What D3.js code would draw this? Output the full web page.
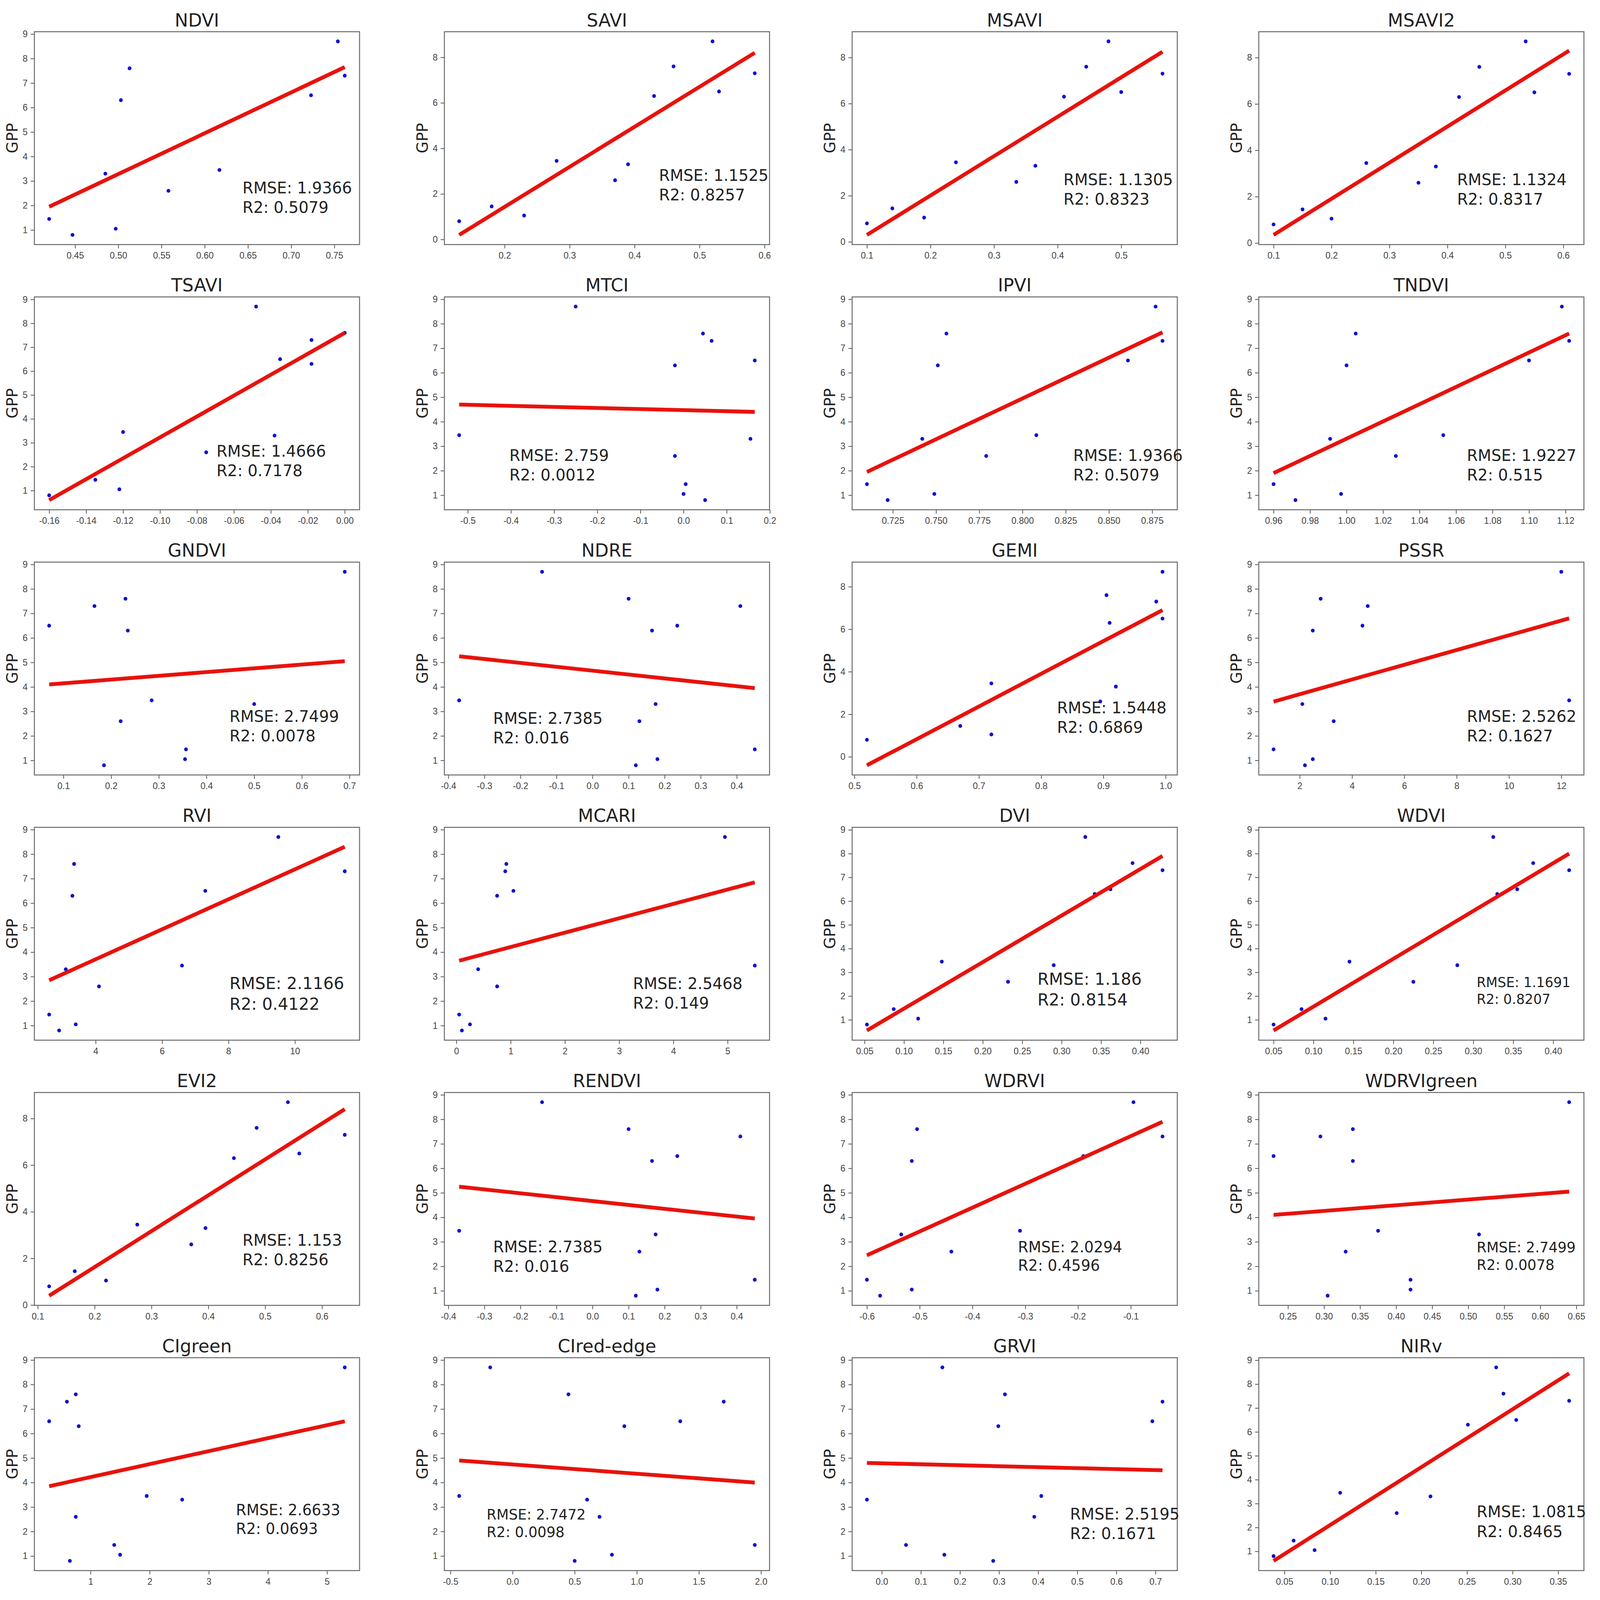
<!DOCTYPE html>
<html><head><meta charset="utf-8">
<script src="https://cdn.jsdelivr.net/npm/d3@7"></script>
<style>html,body{margin:0;padding:0;background:#fff;overflow:hidden}svg{display:block}</style>
</head><body>
<script>
// GPP observations (shared by every panel)
var gpp = [0.8, 1.05, 1.45, 2.6, 3.3, 3.45, 6.3, 6.5, 7.3, 7.6, 8.7];

var names = ["NDVI","SAVI","MSAVI","MSAVI2","TSAVI","MTCI","IPVI","TNDVI",
  "GNDVI","NDRE","GEMI","PSSR","RVI","MCARI","DVI","WDVI",
  "EVI2","RENDVI","WDRVI","WDRVIgreen","CIgreen","CIred-edge","GRVI","NIRv"];

// index values, same order as gpp
var xs = [
  [0.447,0.497,0.42,0.558,0.485,0.617,0.503,0.723,0.762,0.513,0.754],
  [0.13,0.23,0.18,0.37,0.39,0.28,0.43,0.53,0.585,0.46,0.52],
  [0.1,0.19,0.14,0.335,0.365,0.24,0.41,0.5,0.565,0.445,0.48],
  [0.1,0.2,0.15,0.35,0.38,0.26,0.42,0.55,0.61,0.455,0.535],
  [-0.16,-0.122,-0.135,-0.075,-0.038,-0.12,-0.018,-0.035,-0.018,0.0,-0.048],
  [0.05,0.0,0.005,-0.02,0.155,-0.52,-0.02,0.165,0.065,0.045,-0.25],
  [0.722,0.749,0.71,0.779,0.742,0.808,0.751,0.861,0.881,0.756,0.877],
  [0.972,0.997,0.96,1.027,0.991,1.053,1.0,1.10,1.122,1.005,1.118],
  [0.185,0.355,0.357,0.22,0.5,0.285,0.235,0.07,0.165,0.23,0.69],
  [0.12,0.18,0.45,0.13,0.175,-0.37,0.165,0.235,0.41,0.1,-0.14],
  [0.52,0.72,0.67,0.895,0.92,0.72,0.91,0.995,0.985,0.905,0.995],
  [2.2,2.5,1.0,3.3,2.1,12.3,2.5,4.4,4.6,2.8,12.0],
  [2.9,3.4,2.6,4.1,3.1,6.6,3.3,7.3,11.5,3.35,9.5],
  [0.1,0.25,0.05,0.75,0.4,5.5,0.75,1.05,0.9,0.92,4.95],
  [0.053,0.118,0.087,0.232,0.29,0.148,0.342,0.362,0.428,0.39,0.33],
  [0.05,0.115,0.085,0.225,0.28,0.145,0.33,0.355,0.42,0.375,0.325],
  [0.12,0.22,0.165,0.37,0.395,0.275,0.445,0.56,0.64,0.485,0.54],
  [0.12,0.18,0.45,0.13,0.175,-0.37,0.165,0.235,0.41,0.1,-0.14],
  [-0.575,-0.515,-0.6,-0.44,-0.535,-0.31,-0.515,-0.19,-0.04,-0.505,-0.095],
  [0.305,0.42,0.42,0.33,0.515,0.375,0.34,0.23,0.295,0.34,0.64],
  [0.65,1.5,1.4,0.75,2.55,1.95,0.8,0.3,0.6,0.75,5.3],
  [0.5,0.8,1.95,0.7,0.6,-0.43,0.9,1.35,1.7,0.45,-0.18],
  [0.285,0.16,0.062,0.39,-0.038,0.408,0.298,0.692,0.718,0.315,0.155],
  [0.038,0.083,0.06,0.173,0.21,0.111,0.251,0.304,0.362,0.29,0.282]
];

// fitted line GPP at smallest and largest index value (as drawn)
var fitLo = [1.95,0.2,0.3,0.35,0.6,4.7,1.95,1.9,4.1,5.25,-0.4,3.4,
  2.85,3.65,0.55,0.55,0.4,5.25,2.45,4.1,3.85,4.9,4.8,0.6];
var fitHi = [7.65,8.2,8.25,8.3,7.6,4.4,7.65,7.6,5.05,3.95,6.9,6.8,
  8.3,6.85,7.9,8.0,8.4,3.95,7.9,5.05,6.5,4.0,4.5,8.45];

var rmse = ["1.9366","1.1525","1.1305","1.1324","1.4666","2.759","1.9366","1.9227",
  "2.7499","2.7385","1.5448","2.5262","2.1166","2.5468","1.186","1.1691",
  "1.153","2.7385","2.0294","2.7499","2.6633","2.7472","2.5195","1.0815"];
var r2 = ["0.5079","0.8257","0.8323","0.8317","0.7178","0.0012","0.5079","0.515",
  "0.0078","0.016","0.6869","0.1627","0.4122","0.149","0.8154","0.8207",
  "0.8256","0.016","0.4596","0.0078","0.0693","0.0098","0.1671","0.8465"];

var xTicks = [
  ["0.45","0.50","0.55","0.60","0.65","0.70","0.75"],
  ["0.2","0.3","0.4","0.5","0.6"],
  ["0.1","0.2","0.3","0.4","0.5"],
  ["0.1","0.2","0.3","0.4","0.5","0.6"],
  ["-0.16","-0.14","-0.12","-0.10","-0.08","-0.06","-0.04","-0.02","0.00"],
  ["-0.5","-0.4","-0.3","-0.2","-0.1","0.0","0.1","0.2"],
  ["0.725","0.750","0.775","0.800","0.825","0.850","0.875"],
  ["0.96","0.98","1.00","1.02","1.04","1.06","1.08","1.10","1.12"],
  ["0.1","0.2","0.3","0.4","0.5","0.6","0.7"],
  ["-0.4","-0.3","-0.2","-0.1","0.0","0.1","0.2","0.3","0.4"],
  ["0.5","0.6","0.7","0.8","0.9","1.0"],
  ["2","4","6","8","10","12"],
  ["4","6","8","10"],
  ["0","1","2","3","4","5"],
  ["0.05","0.10","0.15","0.20","0.25","0.30","0.35","0.40"],
  ["0.05","0.10","0.15","0.20","0.25","0.30","0.35","0.40"],
  ["0.1","0.2","0.3","0.4","0.5","0.6"],
  ["-0.4","-0.3","-0.2","-0.1","0.0","0.1","0.2","0.3","0.4"],
  ["-0.6","-0.5","-0.4","-0.3","-0.2","-0.1"],
  ["0.25","0.30","0.35","0.40","0.45","0.50","0.55","0.60","0.65"],
  ["1","2","3","4","5"],
  ["-0.5","0.0","0.5","1.0","1.5","2.0"],
  ["0.0","0.1","0.2","0.3","0.4","0.5","0.6","0.7"],
  ["0.05","0.10","0.15","0.20","0.25","0.30","0.35"]
];
var yTicksOdd = ["1","2","3","4","5","6","7","8","9"];
var yTicksEven = ["0","2","4","6","8"];
var evenY = ["SAVI","MSAVI","MSAVI2","GEMI","EVI2"];

// where the RMSE/R2 note sits, as fraction of the plot box, and its font size
var notePos = [[.64,.76],[.66,.70],[.65,.72],[.61,.72],[.56,.75],[.20,.77],[.68,.77],[.64,.77],
  [.60,.75],[.15,.76],[.63,.71],[.64,.75],[.60,.76],[.58,.76],[.57,.74],[.67,.75],
  [.64,.72],[.15,.75],[.51,.75],[.67,.75],[.62,.74],[.13,.76],[.67,.76],[.67,.75]];
var noteSize = [42,42,42,42,42,42,42,42,42,42,42,42,44,42,44,36,
  42,42,40,38,40,38,42,42];

var W = 4281, H = 4187;
var colLeft = [92, 1189, 2280, 3368], plotW = 870, plotH = 557;
var rowTop = 83, rowStep = 694;

var svg = d3.select("body").append("svg")
  .attr("viewBox", "0 0 " + W + " " + H)
  .style("width", "100vw").style("height", "100vh")
  .attr("preserveAspectRatio", "none")
  .style("font-family", "'DejaVu Sans', sans-serif");

names.forEach(function(name, i) {
  var col = i % 4, row = Math.floor(i / 4);
  var g = svg.append("g").attr("transform",
    "translate(" + colLeft[col] + "," + (rowTop + row * rowStep) + ")");
  var x = xs[i];
  var ext = d3.extent(x);
  var fit = [[ext[0], fitLo[i]], [ext[1], fitHi[i]]];

  var xr = ext[1] - ext[0];
  var xScale = d3.scaleLinear().domain([ext[0] - 0.05 * xr, ext[1] + 0.05 * xr]).range([0, plotW]);
  var ye = d3.extent(gpp.concat([fitLo[i], fitHi[i]])), yr = ye[1] - ye[0];
  var yScale = d3.scaleLinear().domain([ye[0] - 0.05 * yr, ye[1] + 0.05 * yr]).range([plotH, 0]);

  var xt = xTicks[i];
  var yt = evenY.indexOf(name) >= 0 ? yTicksEven : yTicksOdd;

  var xAxis = d3.axisBottom(xScale).tickValues(xt.map(Number))
    .tickFormat(function(d, k) { return xt[k]; }).tickSize(10).tickPadding(10);
  var yAxis = d3.axisLeft(yScale).tickValues(yt.map(Number))
    .tickFormat(function(d, k) { return yt[k]; }).tickSize(10).tickPadding(8);

  var ax = g.append("g").attr("transform", "translate(0," + plotH + ")").call(xAxis);
  var ay = g.append("g").call(yAxis);
  [ax, ay].forEach(function(a) {
    a.select(".domain").remove();
    a.selectAll("line").attr("stroke", "#555").attr("stroke-width", 2);
    a.selectAll("text").attr("font-size", 24).attr("fill", "#444");
  });

  g.append("rect").attr("width", plotW).attr("height", plotH)
    .attr("fill", "none").attr("stroke", "#666").attr("stroke-width", 2.5);

  g.append("text").attr("x", plotW / 2).attr("y", -14).attr("text-anchor", "middle")
    .attr("font-size", 48).attr("fill", "#222").text(name);
  g.append("text").attr("transform", "translate(-45," + plotH / 2 + ") rotate(-90)")
    .attr("text-anchor", "middle").attr("font-size", 40).attr("fill", "#222").text("GPP");

  g.selectAll("circle.pt").data(x).enter().append("circle")
    .attr("cx", function(d) { return xScale(d); })
    .attr("cy", function(d, k) { return yScale(gpp[k]); })
    .attr("r", 5).attr("fill", "#1010d0");

  g.append("path").datum(fit)
    .attr("d", d3.line().x(function(p) { return xScale(p[0]); }).y(function(p) { return yScale(p[1]); }))
    .attr("stroke", "#e8120c").attr("stroke-width", 10).attr("fill", "none");

  var np = notePos[i], fs = noteSize[i];
  var t = g.append("text").attr("font-size", fs).attr("fill", "#222");
  t.append("tspan").attr("x", np[0] * plotW).attr("y", np[1] * plotH).text("RMSE: " + rmse[i]);
  t.append("tspan").attr("x", np[0] * plotW).attr("dy", fs * 1.22).text("R2: " + r2[i]);
});
</script>
</body></html>
